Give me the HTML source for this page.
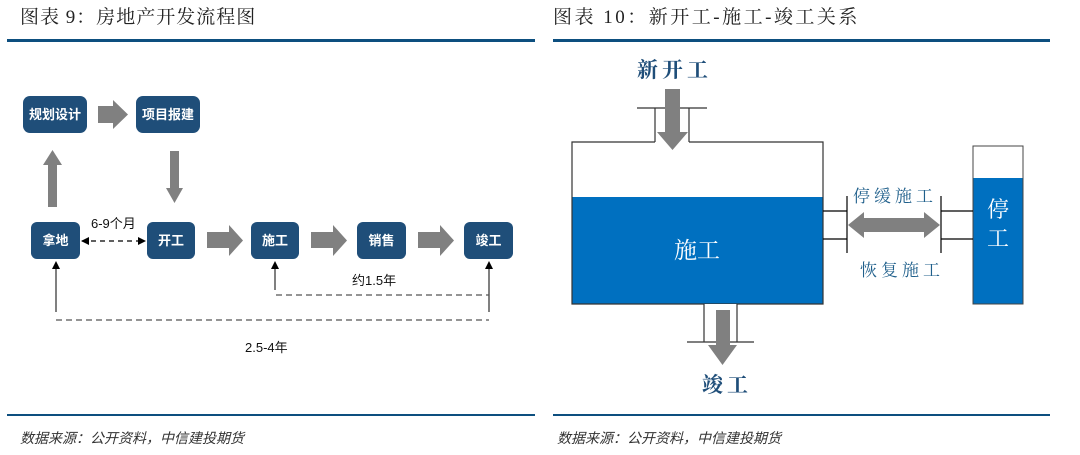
<!DOCTYPE html>
<html><head><meta charset="utf-8"><style>
body{margin:0;background:#fff;}
svg{display:block;}
</style></head><body>
<svg width="1080" height="455" viewBox="0 0 1080 455" xmlns="http://www.w3.org/2000/svg">
<defs>
<marker id="ah" markerWidth="8" markerHeight="8" refX="7" refY="4" orient="auto" markerUnits="userSpaceOnUse"><path d="M0,0 L8,4 L0,8 z" fill="#000"/></marker>
<marker id="ahs" markerWidth="8" markerHeight="8" refX="1" refY="4" orient="auto" markerUnits="userSpaceOnUse"><path d="M8,0 L0,4 L8,8 z" fill="#000"/></marker>
</defs>
<g font-family="'Liberation Serif','Noto Serif CJK SC',serif" font-size="19" fill="#222">
<text x="20" y="23" letter-spacing="1">图表 9：房地产开发流程图</text>
<text x="553" y="23" letter-spacing="2.5">图表 10：新开工-施工-竣工关系</text>
</g>
<rect x="7" y="39" width="528" height="3" fill="#0d4f7f"/>
<rect x="553" y="39" width="497" height="3" fill="#0d4f7f"/>
<rect x="7" y="414" width="528" height="2" fill="#0d4f7f"/>
<rect x="553" y="414" width="497" height="2" fill="#0d4f7f"/>
<g font-family="'Liberation Sans','Noto Sans CJK SC',sans-serif" font-size="14" fill="#333" font-style="italic">
<text x="20" y="443">数据来源：公开资料，中信建投期货</text>
<text x="557" y="443">数据来源：公开资料，中信建投期货</text>
</g>

<g fill="#1f4e79">
<rect x="23" y="96" width="64" height="37" rx="7"/>
<rect x="136" y="96" width="64" height="37" rx="7"/>
<rect x="31" y="222" width="49" height="37" rx="6"/>
<rect x="147" y="222" width="48" height="37" rx="6"/>
<rect x="251" y="222" width="48" height="37" rx="6"/>
<rect x="357" y="222" width="49" height="37" rx="6"/>
<rect x="464" y="222" width="49" height="37" rx="6"/>
</g>
<g font-family="'Liberation Sans','Noto Sans CJK SC',sans-serif" font-size="13" font-weight="bold" fill="#fff" text-anchor="middle">
<text x="55" y="119">规划设计</text>
<text x="168" y="119">项目报建</text>
<text x="55.5" y="245">拿地</text>
<text x="171" y="245">开工</text>
<text x="275" y="245">施工</text>
<text x="381.5" y="245">销售</text>
<text x="488.5" y="245">竣工</text>
</g>
<g fill="#808080">
<path d="M98,106 H113 V100 L128,114.5 L113,129 V123 H98 z"/>
<path d="M48,207 V165 H43 L52.5,150 L62,165 H57 V207 z"/>
<path d="M170,151 H179 V188 H183 L174.5,203 L166,188 H170 z"/>
<path d="M207,232 H229 V225 L243,240.5 L229,256 V248 H207 z"/>
<path d="M311,232 H333 V225 L347,240.5 L333,256 V248 H311 z"/>
<path d="M418,232 H440 V225 L454,240.5 L440,256 V248 H418 z"/>
</g>
<line x1="82" y1="241" x2="145" y2="241" stroke="#000" stroke-width="1.2" stroke-dasharray="5,4" marker-end="url(#ah)" marker-start="url(#ahs)"/>
<g stroke="#000" stroke-width="1">
<line x1="56" y1="312" x2="56" y2="262" marker-end="url(#ah)"/>
<line x1="275" y1="290" x2="275" y2="262" marker-end="url(#ah)"/>
<line x1="489" y1="312" x2="489" y2="262" marker-end="url(#ah)"/>
</g>
<g stroke="#555" stroke-width="1.2" stroke-dasharray="6,4" fill="none">
<line x1="276" y1="295" x2="489" y2="295"/>
<line x1="56" y1="320" x2="489" y2="320"/>
</g>
<g font-family="'Liberation Sans','Noto Sans CJK SC',sans-serif" font-size="13" fill="#111">
<text x="91" y="228">6-9个月</text>
<text x="352" y="285">约1.5年</text>
<text x="245" y="352">2.5-4年</text>
</g>

<rect x="572" y="197" width="251" height="107" fill="#0070c0"/>
<path d="M655,142 H572 V304 H823 V142 H689" fill="none" stroke="#333" stroke-width="1.2"/>
<path d="M655,142 V108 M689,142 V108 M637,108 H707" stroke="#333" stroke-width="1.2" fill="none"/>
<path d="M665,89 H680 V132 H688 L672.5,150 L657,132 H665 z" fill="#808080"/>
<rect x="704" y="304" width="33" height="38" fill="#fff"/>
<path d="M704,304 V342 M737,304 V342 M687,342 H754" stroke="#333" stroke-width="1.2" fill="none"/>
<path d="M716,310 H730 V345 H737 L722.5,365 L708,345 H716 z" fill="#808080"/>
<rect x="973" y="178" width="50" height="126" fill="#0070c0"/>
<rect x="973" y="146" width="50" height="158" fill="none" stroke="#444" stroke-width="1"/>
<g stroke="#000" stroke-width="1.2">
<line x1="823" y1="211" x2="847" y2="211"/>
<line x1="823" y1="239" x2="847" y2="239"/>
<line x1="847" y1="196" x2="847" y2="253"/>
<line x1="941" y1="196" x2="941" y2="253"/>
<line x1="941" y1="211" x2="973" y2="211"/>
<line x1="941" y1="239" x2="973" y2="239"/>
</g>
<path d="M848,225 L864,212 V218 H924 V212 L940,225 L924,238 V232 H864 V238 z" fill="#808080"/>
<g font-family="'Liberation Serif','Noto Serif CJK SC',serif" fill="#1f5f8b">
<text x="637" y="77" font-size="21" font-weight="bold" letter-spacing="4" fill="#1f4e79">新开工</text>
<text x="702" y="392" font-size="21" font-weight="bold" letter-spacing="4" fill="#1f4e79">竣工</text>
<text x="853" y="202" font-size="17" letter-spacing="4">停缓施工</text>
<text x="860" y="276" font-size="17" letter-spacing="4">恢复施工</text>
<text x="697" y="258" font-size="23" text-anchor="middle" fill="#fff">施工</text>
<text x="998" y="217" font-size="22" text-anchor="middle" fill="#fff">停</text>
<text x="998" y="246" font-size="22" text-anchor="middle" fill="#fff">工</text>
</g>
</svg>
</body></html>
